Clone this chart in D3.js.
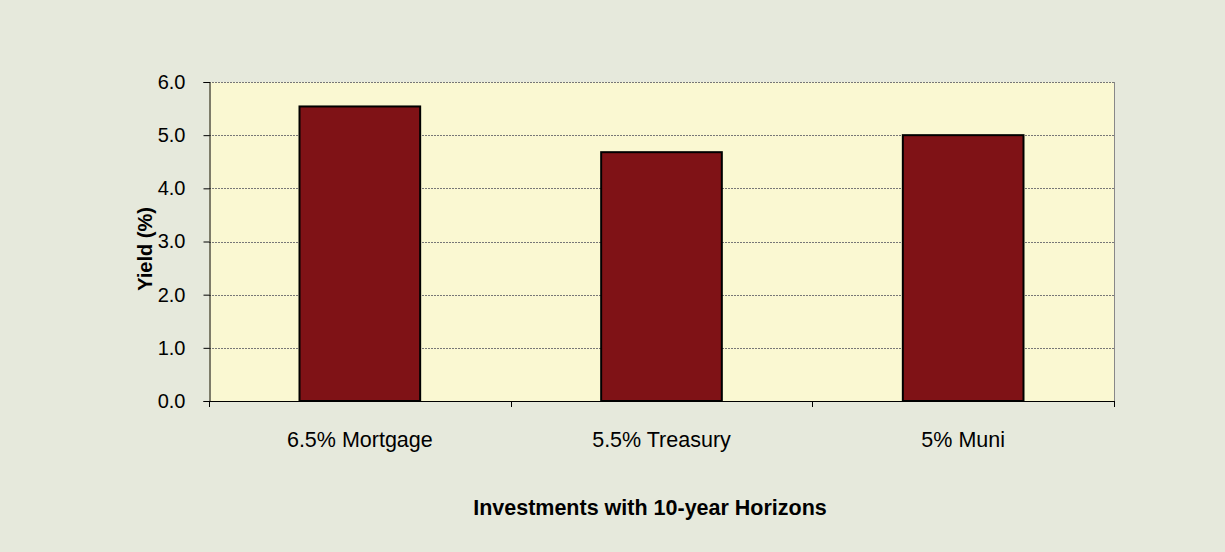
<!DOCTYPE html>
<html><head><meta charset="utf-8">
<script src="https://cdn.jsdelivr.net/npm/d3@7"></script>
<style>html,body{margin:0;padding:0;background:#E6E9DC;}svg{display:block;font-family:"Liberation Sans",Arial,sans-serif;}</style>
</head><body>
<script>
const categories = ["6.5% Mortgage", "5.5% Treasury", "5% Muni"];
const yields = [5.54, 4.68, 5.0];
const yTicks = [0, 1, 2, 3, 4, 5, 6];
const yTitle = "Yield (%)";
const xTitle = "Investments with 10-year Horizons";

const W = 1225, H = 552;
const m = {left: 209, right: 1114, top: 82, bottom: 401};
const FONT = "Liberation Sans, Arial, sans-serif";
const svg = d3.select("body").append("svg").attr("width", W).attr("height", H);
svg.append("rect").attr("width", W).attr("height", H).attr("fill", "#E6E9DC");

const x = d3.scaleBand().domain(categories).range([m.left, m.right]).paddingInner(0.6).paddingOuter(0.3);
const xb = d3.scaleBand().domain(categories).range([m.left, m.right]);
const y = d3.scaleLinear().domain([0, 6]).range([m.bottom, m.top]);

svg.append("rect").attr("x", m.left).attr("y", m.top).attr("width", m.right - m.left).attr("height", m.bottom - m.top).attr("fill", "#FAF8D2");

// gridlines
svg.append("g").selectAll("line").data(yTicks.filter(d => d > 0)).join("line")
  .attr("x1", m.left).attr("x2", m.right)
  .attr("y1", d => Math.round(y(d)) + 0.5).attr("y2", d => Math.round(y(d)) + 0.5)
  .attr("stroke", "#777").attr("stroke-width", 1).attr("stroke-dasharray", "2,1");

// right border
svg.append("line").attr("x1", m.right + 0.5).attr("x2", m.right + 0.5).attr("y1", m.top).attr("y2", m.bottom).attr("stroke", "#888").attr("stroke-width", 1);

// bars
svg.append("g").selectAll("rect").data(categories).join("rect")
  .attr("x", d => x(d)).attr("width", x.bandwidth())
  .attr("y", (d, i) => y(yields[i])).attr("height", (d, i) => y(0) - y(yields[i]))
  .attr("fill", "#7F1216").attr("stroke", "#000").attr("stroke-width", 2);

// y axis
const ya = svg.append("g").attr("transform", `translate(${m.left + 0.5},0)`)
  .call(d3.axisLeft(y).tickValues(yTicks).tickFormat(d3.format(".1f")).tickSize(6).tickPadding(18));
ya.select(".domain").attr("stroke", "#000");
ya.selectAll(".tick line").attr("stroke", "#000");
ya.selectAll("text").attr("font-size", 20).attr("fill", "#000").attr("font-family", FONT);

// x axis
const xa = svg.append("g").attr("transform", `translate(0,${m.bottom + 0.5})`)
  .call(d3.axisBottom(xb).tickSize(0).tickPadding(30));
xa.select(".domain").attr("stroke", "#000").attr("d", `M${m.left},0H${m.right}`);
xa.selectAll("text").attr("font-size", 21.5).attr("fill", "#000").attr("font-family", FONT);
// boundary ticks
const bounds = categories.map(c => xb(c)).concat([m.right]);
svg.append("g").selectAll("line").data(bounds).join("line")
  .attr("x1", d => Math.round(d) + 0.5).attr("x2", d => Math.round(d) + 0.5)
  .attr("y1", m.bottom).attr("y2", m.bottom + 6).attr("stroke", "#000");

// titles
svg.append("text").attr("transform", `translate(152,249) rotate(-90)`)
  .attr("text-anchor", "middle").attr("font-size", 20).attr("font-weight", "bold").attr("font-family", FONT).text(yTitle);
svg.append("text").attr("x", 650).attr("y", 515)
  .attr("text-anchor", "middle").attr("font-size", 21.5).attr("font-weight", "bold").attr("font-family", FONT).text(xTitle);
</script>
</body></html>
